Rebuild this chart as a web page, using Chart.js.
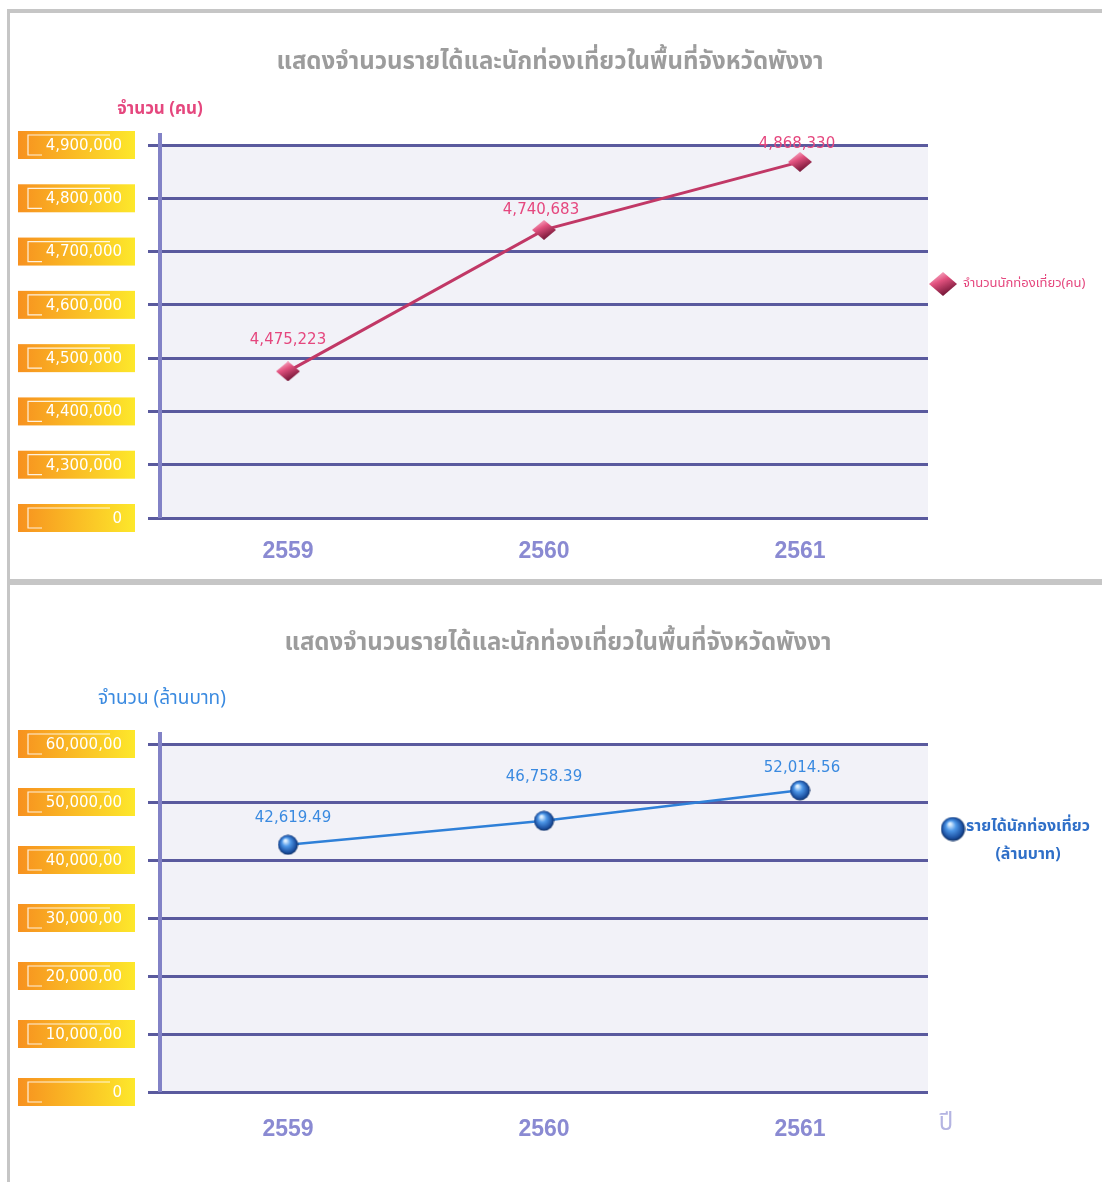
<!DOCTYPE html>
<html>
<head>
<meta charset="utf-8">
<script src="https://cdn.jsdelivr.net/npm/chart.js@4.4.0/dist/chart.umd.min.js"></script>
<style>
body{margin:0;background:#fff;width:1102px;height:1182px;overflow:hidden;position:relative}
#c1{position:absolute;left:0;top:0}
#c2{position:absolute;left:0;top:586px}
.bar{position:absolute;background:#c6c6c6}
</style>
</head>
<body>
<canvas id="c1" width="1102" height="580"></canvas>
<canvas id="c2" width="1102" height="596"></canvas>
<div class="bar" style="left:7px;top:9px;width:1095px;height:4px"></div>
<div class="bar" style="left:7px;top:9px;width:3px;height:1173px"></div>
<div class="bar" style="left:7px;top:579px;width:1095px;height:6px"></div>
<script>
var years = ['2559', '2560', '2561'];
var visitors = [4475223, 4740683, 4868330];
var revenue = [42619.49, 46758.39, 52014.56];
var visitorTicks = ['0', '4,300,000', '4,400,000', '4,500,000', '4,600,000', '4,700,000', '4,800,000', '4,900,000'];
var revenueTicks = ['0', '10,000,00', '20,000,00', '30,000,00', '40,000,00', '50,000,00', '60,000,00'];

var titleText = 'แสดงจำนวนรายได้และนักท่องเที่ยวในพื้นที่จังหวัดพังงา';
var thaiFont = "'Noto Sans Thai', 'Noto Sans', 'DejaVu Sans', sans-serif";

Chart.defaults.font.family = "'DejaVu Sans', sans-serif";

function makeDiamond(w, h) {
    var c = document.createElement('canvas');
    c.width = w; c.height = h;
    var g = c.getContext('2d');
    var grad = g.createLinearGradient(w * 0.2, 0, w * 0.6, h);
    grad.addColorStop(0, '#fcc3d6');
    grad.addColorStop(0.4, '#e2527f');
    grad.addColorStop(1, '#6a1030');
    g.fillStyle = grad;
    g.beginPath();
    g.moveTo(w / 2, 0); g.lineTo(w, h / 2); g.lineTo(w / 2, h); g.lineTo(0, h / 2);
    g.closePath(); g.fill();
    return c;
}
function makeBall(d) {
    var c = document.createElement('canvas');
    c.width = d; c.height = d;
    var g = c.getContext('2d');
    var r = d / 2;
    var grad = g.createRadialGradient(r * 0.75, r * 0.6, 1, r, r, r);
    grad.addColorStop(0, '#dff0ff');
    grad.addColorStop(0.35, '#4d97e8');
    grad.addColorStop(0.8, '#1b4f9f');
    grad.addColorStop(1, '#0a2858');
    g.fillStyle = grad;
    g.beginPath(); g.arc(r, r, r - 0.5, 0, Math.PI * 2); g.fill();
    return c;
}

// background, tick boxes, titles, value labels, legend
var deco = {
    id: 'deco',
    beforeDraw: function(chart) {
        var ctx = chart.ctx, a = chart.chartArea;
        ctx.save();
        ctx.fillStyle = '#f2f2f8';
        ctx.fillRect(a.left, a.top, a.right - a.left, a.bottom - a.top);
        ctx.restore();
    },
    afterDraw: function(chart, args, o) {
        var ctx = chart.ctx, a = chart.chartArea, ys = chart.scales.y;
        ctx.save();
        ctx.textBaseline = 'middle';

        // axis line
        ctx.strokeStyle = '#8282c6';
        ctx.lineWidth = 4;
        ctx.beginPath();
        ctx.moveTo(a.left, a.top - 12);
        ctx.lineTo(a.left, a.bottom);
        ctx.stroke();

        // title
        ctx.textAlign = 'center';
        ctx.font = 'bold 24px ' + thaiFont;
        ctx.fillStyle = '#9c9c9c';
        ctx.fillText(o.title, o.titleX, o.titleY);

        // y axis title
        ctx.font = o.yTitleFont;
        ctx.fillStyle = o.color;
        ctx.fillText(o.yTitle, o.yTitleX, o.yTitleY);

        // tick label boxes
        ys.ticks.forEach(function(t) {
            var y = ys.getPixelForValue(t.value);
            var g = ctx.createLinearGradient(18, 0, 135, 0);
            g.addColorStop(0, '#f7911f');
            g.addColorStop(1, '#fde82b');
            ctx.fillStyle = g;
            ctx.fillRect(18, y - 14, 117, 28);
            ctx.strokeStyle = 'rgba(255,255,255,0.85)';
            ctx.lineWidth = 1.2;
            ctx.beginPath();
            ctx.moveTo(110, y - 10); ctx.lineTo(28, y - 10); ctx.lineTo(28, y + 10); ctx.lineTo(42, y + 10);
            ctx.stroke();
            ctx.font = '15px "DejaVu Sans"';
            ctx.fillStyle = '#ffffff';
            ctx.textAlign = 'right';
            ctx.fillText(t.label, 122, y + 1);
        });

        // value labels
        ctx.textAlign = 'center';
        ctx.font = '15px "DejaVu Sans"';
        ctx.fillStyle = o.color;
        var meta = chart.getDatasetMeta(0);
        meta.data.forEach(function(p, i) {
            ctx.fillText(o.valueText(chart.data.datasets[0].data[i]), p.x + o.labelDx[i], p.y + o.labelDy[i]);
        });

        // legend
        var ic = o.legendIcon;
        ctx.drawImage(ic, o.legendX - ic.width / 2, o.legendY - ic.height / 2);
        ctx.font = o.legendFont;
        ctx.fillStyle = o.legendColor;
        ctx.textAlign = o.legendAlign;
        o.legendLines.forEach(function(line) {
            ctx.fillText(line[0], line[1], line[2]);
        });

        if (o.xTitle) {
            ctx.font = '24px ' + thaiFont;
            ctx.fillStyle = '#b4b4e2';
            ctx.textAlign = 'center';
            ctx.fillText(o.xTitle, o.xTitleX, o.xTitleY);
        }
        ctx.restore();
    }
};

function baseScales(min, max, step, tickLabels, xHeight, xPad) {
    return {
        x: {
            offset: true,
            grid: { display: false, drawTicks: false },
            border: { display: false },
            ticks: { color: '#8a8ad2', font: { family: "'Liberation Sans'", size: 23, weight: 'bold' }, padding: xPad },
            afterFit: function(s) { s.height = xHeight; }
        },
        y: {
            min: min, max: max,
            grid: { color: '#5a5a9e', lineWidth: 3, tickLength: 12, drawTicks: true },
            border: { display: false },
            ticks: {
                display: false, stepSize: step,
                callback: function(v, i) { return tickLabels[i]; }
            },
            afterFit: function(s) { s.width = 150; }
        }
    };
}

var diamond = makeDiamond(24, 20);
var ball = makeBall(21);

new Chart(document.getElementById('c1').getContext('2d'), {
    type: 'line',
    data: {
        labels: years,
        datasets: [{
            data: visitors,
            borderColor: '#c13866',
            borderWidth: 3,
            tension: 0,
            pointStyle: diamond,
            pointRadius: 11
        }]
    },
    options: {
        responsive: false,
        animation: false,
        layout: { padding: { top: 145, left: 10, right: 174, bottom: 0 } },
        scales: baseScales(4200000, 4900000, 100000, visitorTicks, 62, 20),
        plugins: {
            legend: { display: false },
            tooltip: { enabled: false },
            deco: {
                title: titleText, titleX: 550, titleY: 64,
                yTitle: 'จำนวน (คน)', yTitleX: 160, yTitleY: 111,
                yTitleFont: 'bold 17px ' + thaiFont,
                color: '#e5477e',
                valueText: function(v) { return v.toLocaleString('en-US'); },
                labelDx: [0, -3, -3],
                labelDy: [-31, -20, -18],
                legendIcon: makeDiamond(28, 24), legendX: 943, legendY: 284,
                legendFont: '13px ' + thaiFont, legendColor: '#e5477e', legendAlign: 'left',
                legendLines: [['จำนวนนักท่องเที่ยว(คน)', 963, 284]]
            }
        }
    },
    plugins: [deco]
});

new Chart(document.getElementById('c2').getContext('2d'), {
    type: 'line',
    data: {
        labels: years,
        datasets: [{
            data: revenue,
            borderColor: '#2f80d8',
            borderWidth: 2.5,
            tension: 0,
            pointStyle: ball,
            pointRadius: 10
        }]
    },
    options: {
        responsive: false,
        animation: false,
        layout: { padding: { top: 158, left: 10, right: 174, bottom: 0 } },
        scales: baseScales(0, 60000, 10000, revenueTicks, 90, 24),
        plugins: {
            legend: { display: false },
            tooltip: { enabled: false },
            deco: {
                title: titleText, titleX: 558, titleY: 59,
                yTitle: 'จำนวน (ล้านบาท)', yTitleX: 162, yTitleY: 114,
                yTitleFont: '19px ' + thaiFont,
                color: '#3a8ae0',
                valueText: function(v) { return v.toLocaleString('en-US', { minimumFractionDigits: 2, maximumFractionDigits: 2 }); },
                labelDx: [5, 0, 2],
                labelDy: [-27, -44, -22],
                legendIcon: makeBall(25), legendX: 953, legendY: 243,
                legendFont: 'bold 16px ' + thaiFont, legendColor: '#2f6fc8', legendAlign: 'center',
                legendLines: [['รายได้นักท่องเที่ยว', 1028, 242], ['(ล้านบาท)', 1028, 270]],
                xTitle: 'ปี', xTitleX: 946, xTitleY: 539
            }
        }
    },
    plugins: [deco]
});
</script>
</body>
</html>
